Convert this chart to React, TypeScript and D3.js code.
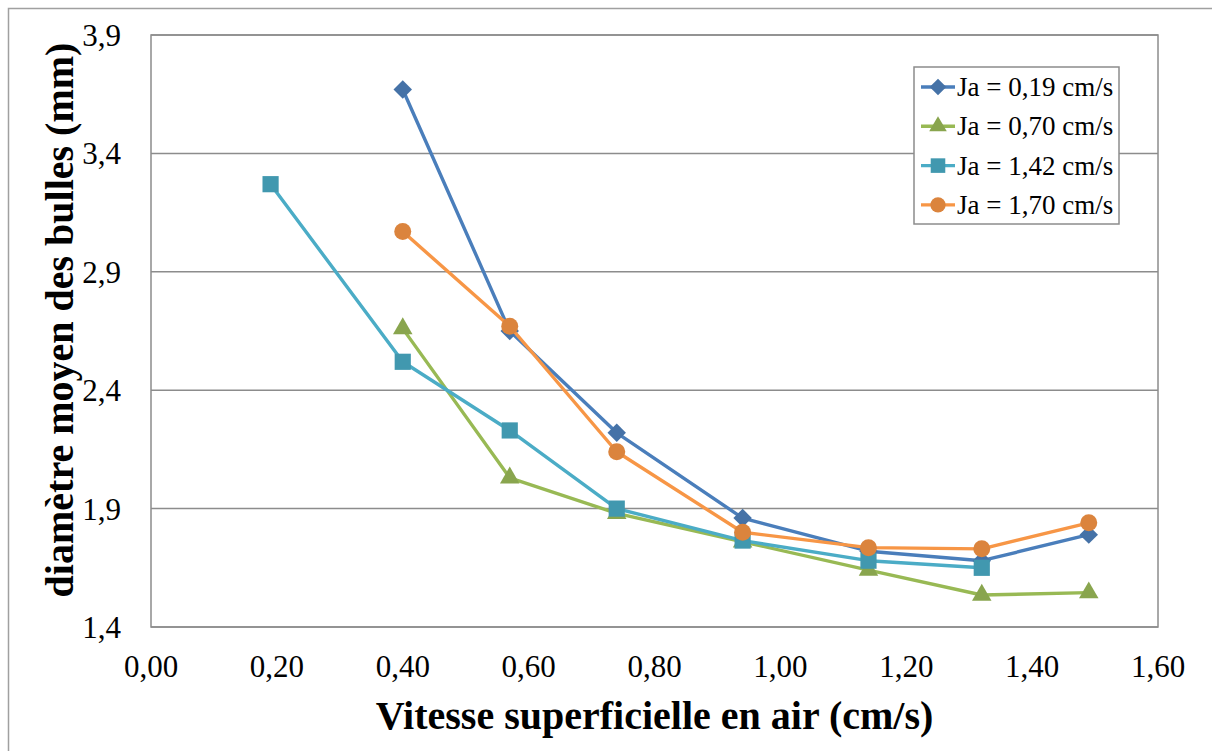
import * as d3 from 'd3'

// abscisses communes (vitesse superficielle en air, cm/s)
const xJa019 = [0.4, 0.57, 0.74, 0.94, 1.14, 1.32, 1.49]
const yJa019 = [3.67, 2.65, 2.22, 1.86, 1.72, 1.68, 1.79]

const xJa070 = [0.4, 0.57, 0.74, 0.94, 1.14, 1.32, 1.49]
const yJa070 = [2.66, 2.03, 1.88, 1.76, 1.64, 1.535, 1.545]

const xJa142 = [0.19, 0.4, 0.57, 0.74, 0.94, 1.14, 1.32]
const yJa142 = [3.27, 2.52, 2.23, 1.9, 1.765, 1.68, 1.65]

const xJa170 = [0.4, 0.57, 0.74, 0.94, 1.14, 1.32, 1.49]
const yJa170 = [3.07, 2.67, 2.14, 1.8, 1.735, 1.73, 1.84]

const seriesNames = ['Ja = 0,19 cm/s', 'Ja = 0,70 cm/s', 'Ja = 1,42 cm/s', 'Ja = 1,70 cm/s']

const xTicks = [0, 0.2, 0.4, 0.6, 0.8, 1.0, 1.2, 1.4, 1.6]
const yTicks = [1.4, 1.9, 2.4, 2.9, 3.4, 3.9]

const xTitle = 'Vitesse superficielle en air (cm/s)'
const yTitle = 'diamètre moyen des bulles (mm)'

type Pt = { x: number; y: number }

const zip = (xs: number[], ys: number[]): Pt[] => xs.map((x, i) => ({ x, y: ys[i] }))

const series = [
  { name: seriesNames[0], pts: zip(xJa019, yJa019), line: '#4a7ebb', fill: '#4572a7', shape: 'diamond' },
  { name: seriesNames[1], pts: zip(xJa070, yJa070), line: '#98b954', fill: '#89a54e', shape: 'triangle' },
  { name: seriesNames[2], pts: zip(xJa142, yJa142), line: '#4bacc6', fill: '#4198af', shape: 'square' },
  { name: seriesNames[3], pts: zip(xJa170, yJa170), line: '#f79646', fill: '#db843d', shape: 'circle' },
]

const W = 1212
const H = 751
const plot = { left: 151, right: 1158, top: 35, bottom: 627 }
const serif = { fontFamily: "'Liberation Serif', 'Times New Roman', Times, serif" }

const markerPath = (shape: string) => {
  if (shape === 'diamond') return d3.symbol().type(d3.symbolSquare).size(170)()
  if (shape === 'triangle') return d3.symbol().type(d3.symbolTriangle).size(165)()
  if (shape === 'square') return d3.symbol().type(d3.symbolSquare).size(262)()
  return d3.symbol().type(d3.symbolCircle).size(227)()
}

const fmt = (v: number, digits: number) => v.toFixed(digits).replace('.', ',')

const App = () => {
  const x = d3.scaleLinear().domain([0, 1.6]).range([plot.left, plot.right])
  const y = d3.scaleLinear().domain([1.4, 3.9]).range([plot.bottom, plot.top])

  const line = d3
    .line<Pt>()
    .x((d) => x(d.x))
    .y((d) => y(d.y))

  const legend = { x: 914, y: 67, w: 205, h: 157, row0: 87, step: 39.3 }

  return (
    <svg width={W} height={H} style={{ position: 'absolute', left: 0, top: 0, background: '#fff' }}>
      <rect x={8.5} y={8.5} width={W + 20} height={H + 20} fill="#fff" stroke="#a0a0a0" strokeWidth={1.5} />

      {/* grille horizontale */}
      {yTicks.map((t) => (
        <line key={'g' + t} x1={plot.left} x2={plot.right} y1={y(t)} y2={y(t)} stroke="#8c8c8c" strokeWidth={1.5} />
      ))}
      <rect
        x={plot.left}
        y={plot.top}
        width={plot.right - plot.left}
        height={plot.bottom - plot.top}
        fill="none"
        stroke="#8c8c8c"
        strokeWidth={1.5}
      />

      {/* graduations */}
      {yTicks.map((t) => (
        <text key={'yt' + t} x={121} y={y(t) + 11} textAnchor="end" fontSize={31} fill="#000" style={serif}>
          {fmt(t, 1)}
        </text>
      ))}
      {xTicks.map((t) => (
        <text key={'xt' + t} x={x(t)} y={677} textAnchor="middle" fontSize={31} fill="#000" style={serif}>
          {fmt(t, 2)}
        </text>
      ))}

      {/* titres d'axes */}
      <text x={(plot.left + plot.right) / 2} y={729} textAnchor="middle" fontSize={40} fontWeight="bold" style={serif}>
        {xTitle}
      </text>
      <text
        transform={`translate(73, 320) rotate(-90)`}
        textAnchor="middle"
        fontSize={40}
        fontWeight="bold"
        style={serif}
      >
        {yTitle}
      </text>

      {/* séries */}
      {series.map((s) => (
        <g key={s.name}>
          <path d={line(s.pts) ?? ''} fill="none" stroke={s.line} strokeWidth={3.4} strokeLinejoin="round" />
          {s.pts.map((p, i) => (
            <path
              key={i}
              d={markerPath(s.shape) ?? ''}
              transform={`translate(${x(p.x)},${y(p.y)})${s.shape === 'diamond' ? ' rotate(45)' : ''}`}
              fill={s.fill}
            />
          ))}
        </g>
      ))}

      {/* légende */}
      <rect x={legend.x} y={legend.y} width={legend.w} height={legend.h} fill="#fff" stroke="#8c8c8c" strokeWidth={1.5} />
      {series.map((s, i) => {
        const cy = legend.row0 + i * legend.step
        return (
          <g key={'lg' + s.name}>
            <line x1={921} x2={955} y1={cy} y2={cy} stroke={s.line} strokeWidth={3.4} />
            <path
              d={markerPath(s.shape) ?? ''}
              transform={`translate(938,${cy})${s.shape === 'diamond' ? ' rotate(45)' : ''} scale(0.9)`}
              fill={s.fill}
            />
            <text x={957} y={cy + 9} fontSize={27} fill="#000" style={serif}>
              {s.name}
            </text>
          </g>
        )
      })}
    </svg>
  )
}

export default App
